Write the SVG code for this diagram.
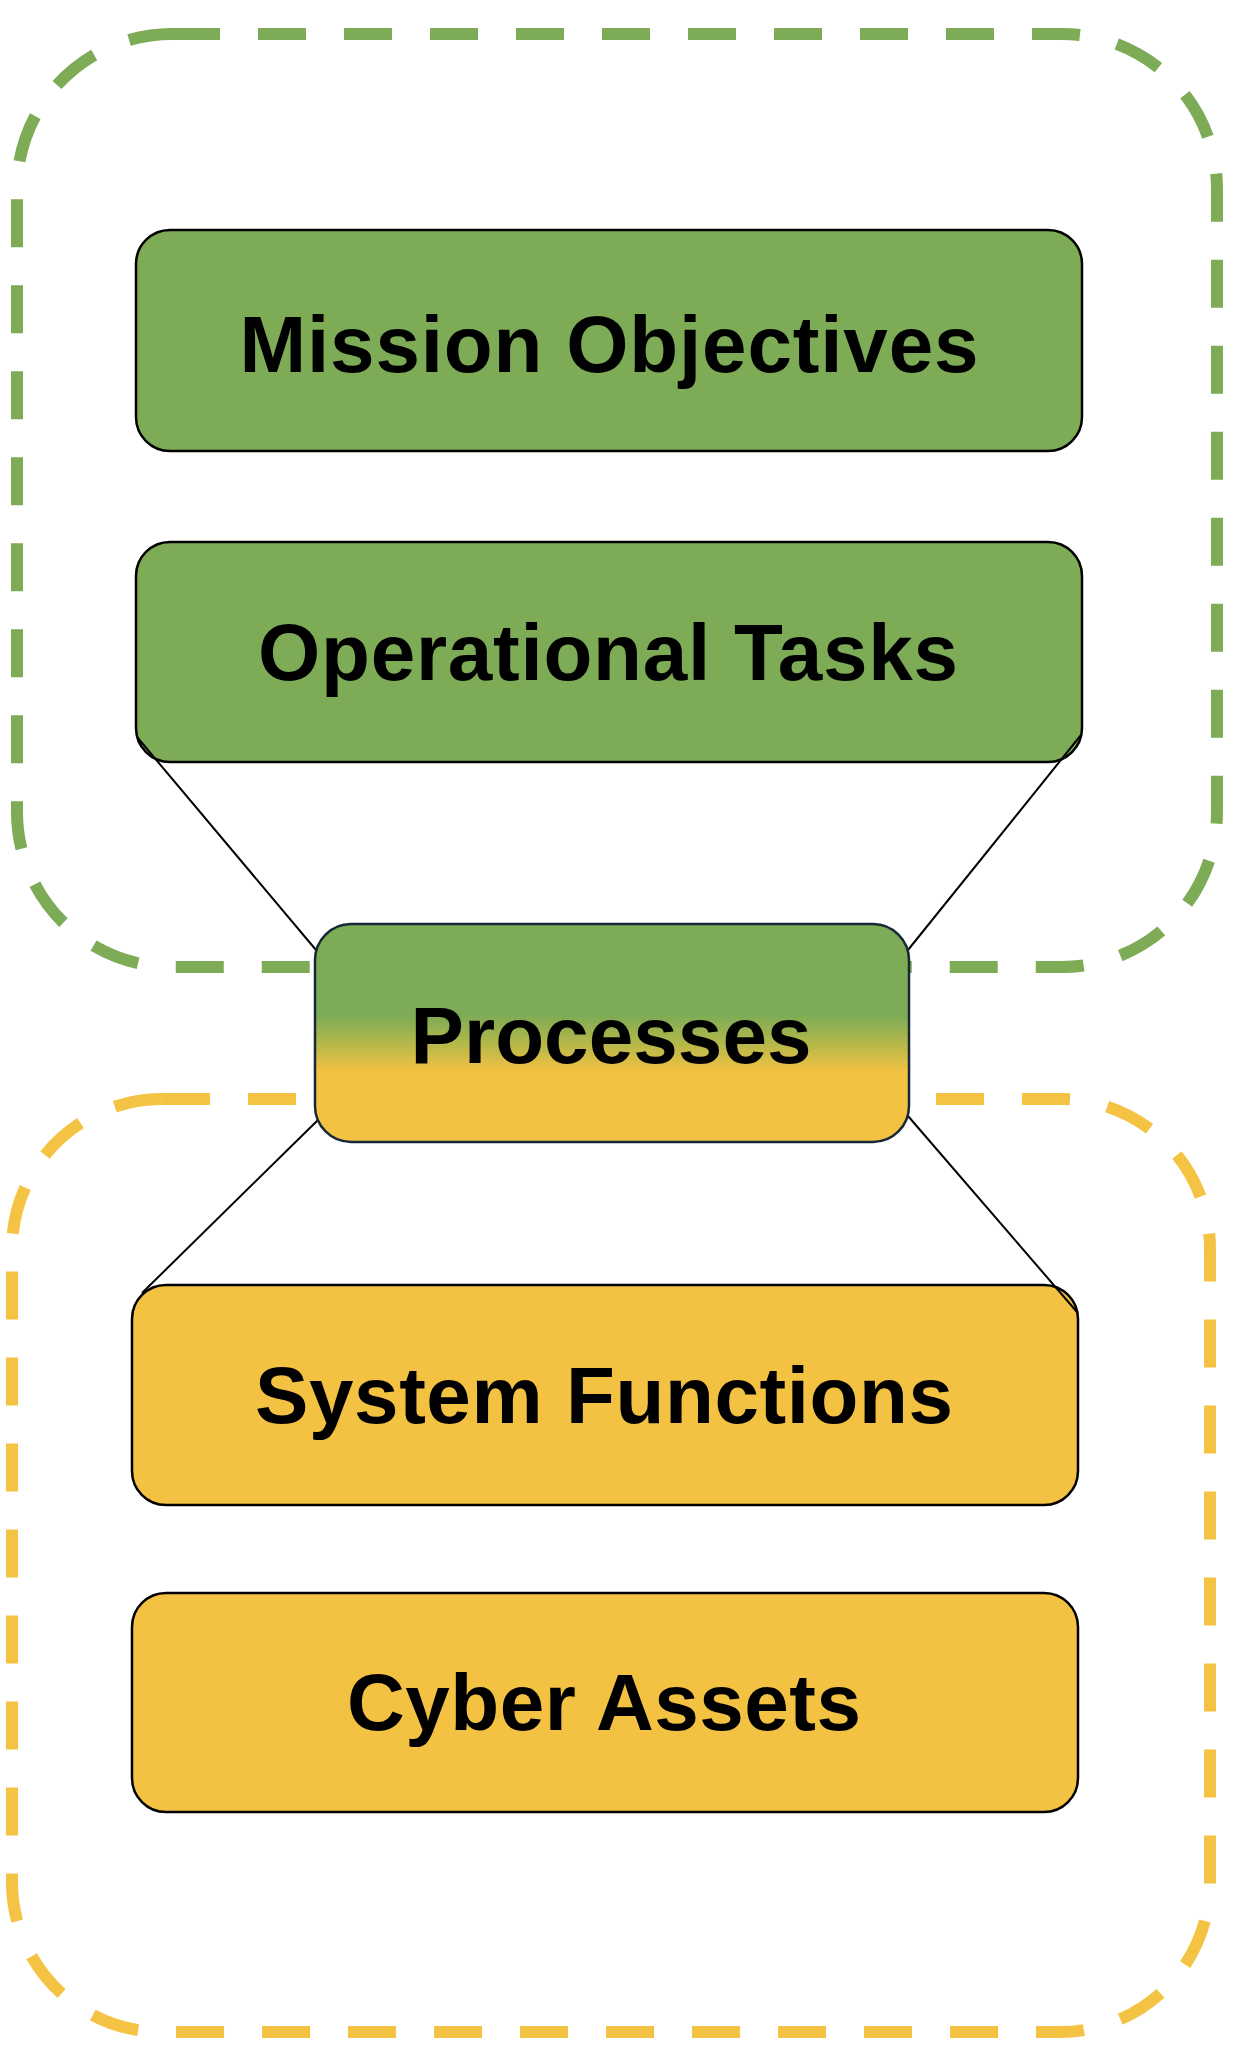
<svg xmlns="http://www.w3.org/2000/svg" width="1234" height="2052" viewBox="0 0 1234 2052">
<defs>
<linearGradient id="procGrad" x1="0" y1="0" x2="0" y2="1">
<stop offset="0" stop-color="#7eab56"/>
<stop offset="0.42" stop-color="#7eab56"/>
<stop offset="0.55" stop-color="#b5b84a"/>
<stop offset="0.68" stop-color="#f4c243"/>
<stop offset="1" stop-color="#f4c243"/>
</linearGradient>
<style>
.grp{fill:none;stroke-width:12;stroke-dasharray:48 38}
.g{stroke:#7eab56}
.y{stroke:#f5c343}
.box{stroke:#000;stroke-width:2.5}
.gf{fill:#7eab56}
.yf{fill:#f4c243}
.lbl{font-family:"Liberation Sans",Arial,sans-serif;font-weight:bold;font-size:80px;fill:#000;text-anchor:middle}
.conn{stroke:#000;stroke-width:2;fill:none}
</style>
</defs>
<rect width="1234" height="2052" fill="#fff"/>
<g id="group-mission">
<rect class="grp g" x="17" y="34" width="1200" height="933" rx="155" ry="155"/>
</g>
<g id="group-cyber">
<rect class="grp y" x="12" y="1099" width="1198" height="933" rx="150" ry="150"/>
</g>
<g id="mission-objectives">
<rect class="box gf" x="136" y="230" width="946" height="221" rx="34" ry="34"/>
<text class="lbl" x="609" y="372" textLength="739">Mission Objectives</text>
</g>
<g id="operational-tasks">
<rect class="box gf" x="136" y="542" width="946" height="220" rx="34" ry="34"/>
<text class="lbl" x="608" y="680" textLength="700">Operational Tasks</text>
</g>
<g id="system-functions">
<rect class="box yf" x="132" y="1285" width="946" height="220" rx="34" ry="34"/>
<text class="lbl" x="604" y="1423" textLength="698">System Functions</text>
</g>
<g id="cyber-assets">
<rect class="box yf" x="132" y="1593" width="946" height="219" rx="34" ry="34"/>
<text class="lbl" x="604" y="1730" textLength="514">Cyber Assets</text>
</g>
<g id="connectors">
<line class="conn" x1="137" y1="737" x2="316" y2="950"/>
<line class="conn" x1="1081" y1="735" x2="908" y2="950"/>
<line class="conn" x1="320" y1="1118" x2="142" y2="1293"/>
<line class="conn" x1="908" y1="1116" x2="1077" y2="1312"/>
</g>
<g id="processes">
<rect x="315" y="924" width="594" height="218" rx="36" ry="36" fill="url(#procGrad)" stroke="#17283a" stroke-width="2.5"/>
<text class="lbl" x="611" y="1063" textLength="401">Processes</text>
</g>
</svg>
